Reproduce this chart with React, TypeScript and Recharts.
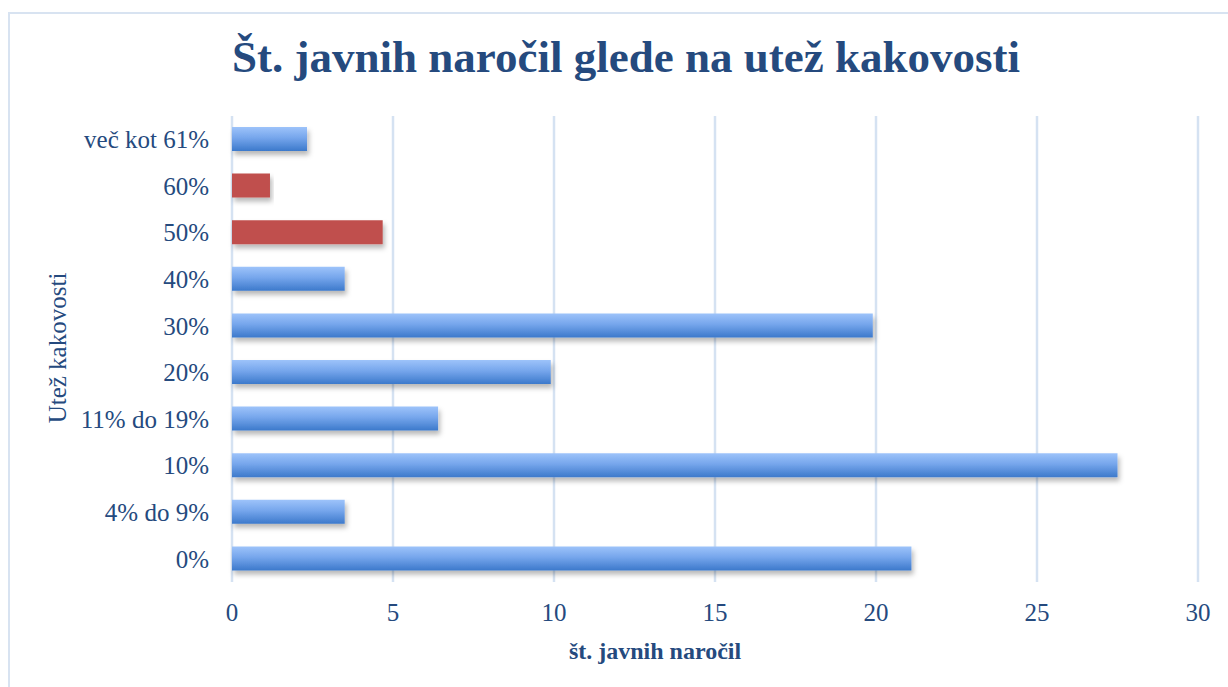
import React from 'react';
import { BarChart, Bar, XAxis, YAxis, CartesianGrid, Cell } from 'recharts';

const categories = ['več kot 61%', '60%', '50%', '40%', '30%', '20%', '11% do 19%', '10%', '4% do 9%', '0%'];
const values = [2.33, 1.18, 4.68, 3.5, 19.9, 9.9, 6.4, 27.5, 3.5, 21.1];
const highlighted = [false, true, true, false, false, false, false, false, false, false];
const xTicks = [0, 5, 10, 15, 20, 25, 30];

const titleText = 'Št. javnih naročil glede na utež kakovosti';
const xLabel = 'št. javnih naročil';
const yLabel = 'Utež kakovosti';

const data = categories.map((name, i) => ({ name, value: values[i], red: highlighted[i] }));

const textColor = '#254a7e';
const font = '"Liberation Serif", "DejaVu Serif", serif';

export default function App() {
  return (
    <div style={{ position: 'absolute', left: 0, top: 0, width: 1228, height: 687, background: '#fff', overflow: 'hidden', fontFamily: font }}>
      <div style={{ position: 'absolute', left: 8, top: 12, width: 1240, height: 700, border: '2px solid #d8e3f1', boxSizing: 'border-box' }} />
      <BarChart
        width={1228}
        height={687}
        data={data}
        layout="vertical"
        margin={{ top: 116, right: 30, left: 0, bottom: 0 }}
        barSize={24}
      >
        <defs>
          <linearGradient id="blueGrad" x1="0" y1="0" x2="0" y2="1">
            <stop offset="0%" stopColor="#9dc3fa" />
            <stop offset="45%" stopColor="#76a6ec" />
            <stop offset="100%" stopColor="#3c79cb" />
          </linearGradient>
          <filter id="barShadow" x="-5%" y="-30%" width="115%" height="190%">
            <feDropShadow dx="2" dy="4" stdDeviation="2.5" floodColor="#000" floodOpacity="0.28" />
          </filter>
        </defs>
        <CartesianGrid horizontal={false} vertical={true} stroke="#d5e2f2" strokeWidth={2.5} />
        <XAxis
          type="number"
          domain={[0, 30]}
          ticks={xTicks}
          axisLine={false}
          tickLine={false}
          tickSize={0}
          tickMargin={21}
          height={105}
          interval={0}
          tick={{ fill: textColor, fontSize: 25, fontFamily: font }}
        />
        <YAxis
          type="category"
          dataKey="name"
          width={232}
          axisLine={false}
          tickLine={false}
          tickSize={0}
          tickMargin={23}
          interval={0}
          tick={{ fill: textColor, fontSize: 25, fontFamily: font }}
        />
        <Bar dataKey="value" isAnimationActive={false}>
          {data.map((d, i) => (
            <Cell key={i} fill={d.red ? '#c0504d' : 'url(#blueGrad)'} filter="url(#barShadow)" />
          ))}
        </Bar>
      </BarChart>
      <div style={{ position: 'absolute', left: 26, top: 35, width: 1200, textAlign: 'center', fontSize: 45, lineHeight: '45px', fontWeight: 'bold', color: textColor, whiteSpace: 'nowrap' }}>
        {titleText}
      </div>
      <div style={{ position: 'absolute', left: 455, top: 639, width: 400, textAlign: 'center', fontSize: 24, lineHeight: '24px', fontWeight: 'bold', color: textColor, whiteSpace: 'nowrap' }}>
        {xLabel}
      </div>
      <div style={{ position: 'absolute', left: 57, top: 348, transform: 'translate(-50%, -50%) rotate(-90deg)', fontSize: 25, lineHeight: '25px', color: textColor, whiteSpace: 'nowrap' }}>
        {yLabel}
      </div>
    </div>
  );
}
